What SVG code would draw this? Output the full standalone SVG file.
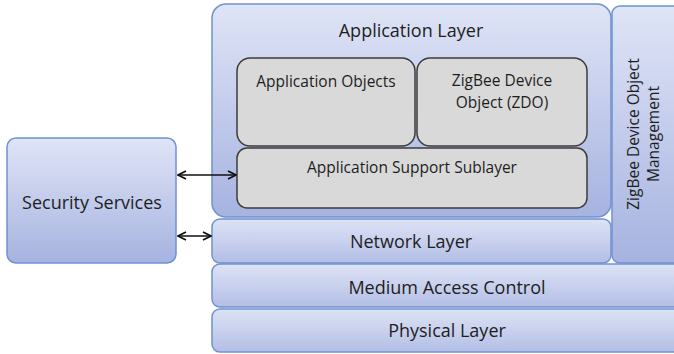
<svg xmlns="http://www.w3.org/2000/svg" width="674" height="354" viewBox="0 0 674 354">
<defs>
<linearGradient id="blue" x1="0" y1="0" x2="0" y2="1">
<stop offset="0" stop-color="#dfe4f6"/>
<stop offset="1" stop-color="#a6b3e0"/>
</linearGradient>
<linearGradient id="blue2" x1="0" y1="0" x2="0" y2="1">
<stop offset="0" stop-color="#dde3f5"/>
<stop offset="1" stop-color="#b3bee6"/>
</linearGradient>
<marker id="ah" viewBox="0 0 10 10" refX="9" refY="5" markerWidth="10" markerHeight="10" markerUnits="userSpaceOnUse" orient="auto-start-reverse">
<path d="M1,1 L9,5 L1,9" fill="none" stroke="#111" stroke-width="1.8"/>
</marker>
</defs>
<style>
.layer{fill:url(#blue);stroke:#6f93d0;stroke-width:1.5}
.thin{fill:url(#blue2);stroke:#6f93d0;stroke-width:1.5}
.grey{fill:#d9d9d9;stroke:#3c3c3c;stroke-width:1.5}
text{font-family:"Open Sans",Lato,"Liberation Sans",sans-serif;fill:#1e1e1e;text-anchor:middle}
.big{font-size:18px}
.small{font-size:15.5px}
.conn{stroke:#111;stroke-width:1.6;fill:none;marker-start:url(#ah);marker-end:url(#ah)}
</style>
<rect width="674" height="354" fill="#ffffff"/>
<g id="zdo-mgmt">
<rect class="layer" x="612" y="6" width="70" height="257" rx="8"/>
<text class="small" transform="translate(643,134) rotate(-90)"><tspan x="0" y="-4">ZigBee Device Object</tspan><tspan x="0" y="16">Management</tspan></text>
</g>
<g id="physical">
<rect class="thin" x="212" y="309" width="470" height="43" rx="8"/>
<text class="big" x="447" y="337">Physical Layer</text>
</g>
<g id="mac">
<rect class="thin" x="212" y="264" width="470" height="43" rx="8"/>
<text class="big" x="447" y="294">Medium Access Control</text>
</g>
<g id="network">
<rect class="thin" x="212" y="219" width="399" height="44" rx="8"/>
<text class="big" x="411" y="248">Network Layer</text>
</g>
<g id="application-layer">
<rect class="layer" x="212" y="4" width="399" height="213" rx="14"/>
<text class="big" x="411" y="37">Application Layer</text>
</g>
<g id="app-objects">
<rect class="grey" x="237" y="58" width="178" height="88" rx="13"/>
<text class="small" x="326" y="87">Application Objects</text>
</g>
<g id="zdo">
<rect class="grey" x="417" y="58" width="170" height="88" rx="13"/>
<text class="small" x="502" y="86">ZigBee Device</text>
<text class="small" x="502" y="108">Object (ZDO)</text>
</g>
<g id="aps">
<rect class="grey" x="237" y="148" width="350" height="60" rx="10"/>
<text class="small" x="412" y="173">Application Support Sublayer</text>
</g>
<g id="security">
<rect class="layer" x="7" y="138" width="169" height="125" rx="9"/>
<text class="big" x="92" y="209">Security Services</text>
</g>
<g id="connectors">
<line class="conn" x1="178" y1="175" x2="236" y2="175"/>
<line class="conn" x1="178" y1="236" x2="211" y2="236"/>
</g>
</svg>
